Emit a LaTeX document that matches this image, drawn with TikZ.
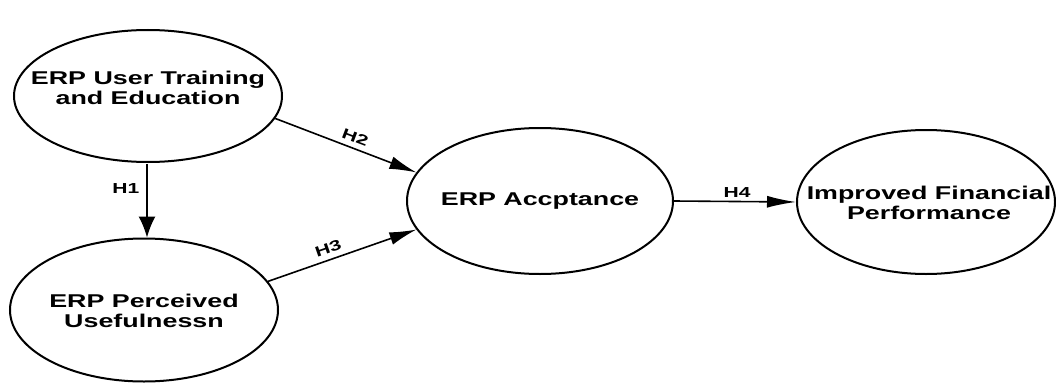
\documentclass[tikz,border=0pt]{standalone}
\usepackage{fontspec}
\usetikzlibrary{shapes.geometric,arrows.meta}
\newfontfamily\lblfont{Liberation Sans}[FakeStretch=1.45]
\tikzset{
  ell/.style={ellipse, draw=black, line width=2pt, inner sep=0pt, fill=white},
  txt/.style={align=center, font=\lblfont\bfseries\fontsize{18.5}{19.5}\selectfont, inner sep=0pt},
  hlab/.style={font=\lblfont\bfseries\fontsize{14.5}{16}\selectfont, inner sep=2pt},
  conn/.style={line width=1.6pt, draw=black},
  harr/.style={-{Latex[length=29pt,width=12pt]}},
  varr/.style={-{Latex[length=21pt,width=17pt]}},
  darr/.style={-{Latex[length=27pt,width=13pt]}}
}
\begin{document}
\begin{tikzpicture}[x=1pt,y=-1pt]
\useasboundingbox (0,0) rectangle (1056,385);
\node[ell, minimum width=268pt, minimum height=132pt] (tr) at (148,96) {};
\node[txt] (trt) at (148,88) {ERP User Training\\and Education};
\node[ell, minimum width=268pt, minimum height=143pt] (pu) at (144,310) {};
\node[txt] (put) at (144,311) {ERP Perceived\\Usefulnessn};
\node[ell, minimum width=266pt, minimum height=146pt] (acc) at (540,201) {};
\node[txt] (acct) at (540,201) {ERP Accptance};
\node[ell, minimum width=258pt, minimum height=144pt] (imp) at (926,202) {};
\node[txt] (impt) at (929,203) {Improved Financial\\Performance};

\draw[conn,varr] (tr.south -| 147,0) ++(0,1) coordinate (h1s) -- (pu.north -| h1s) node[hlab, pos=0.33, left, xshift=-5pt] {H1};
\draw[conn,darr] (tr.-10) -- (acc.167) node[hlab, midway, above, sloped, xshift=6pt, yshift=3pt] {H2};
\draw[conn,darr] (pu.13) -- (acc.193) node[hlab, pos=0.43, above, sloped, yshift=3pt] {H3};
\draw[conn,harr] (acc.east) -- (imp.west) node[hlab, midway, above, xshift=2pt, yshift=1pt] {H4};
\end{tikzpicture}
\end{document}
